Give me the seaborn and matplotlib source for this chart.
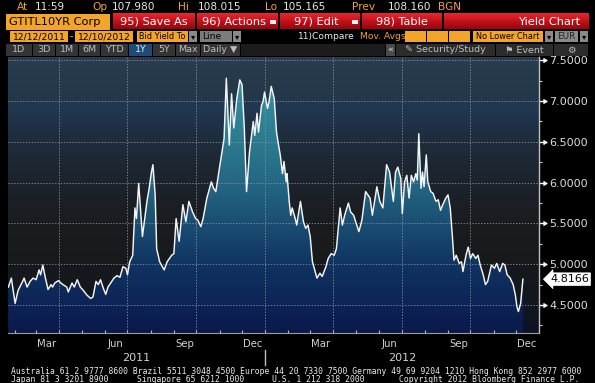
import numpy as np
import pandas as pd
import matplotlib
matplotlib.use("Agg")
import matplotlib.pyplot as plt
import matplotlib.dates as mdates
from matplotlib.colors import LinearSegmentedColormap
from matplotlib.patches import Rectangle
from matplotlib.ticker import MultipleLocator, FixedLocator, FixedFormatter
import seaborn as sns

# ---------------- data ----------------
day_offset = [  # days since 2011-01-01
    22, 26, 31, 35, 40, 43, 47, 51, 55, 59, 63, 65, 68, 71, 75, 79, 81, 84, 89, 92, 95, 100,
    102, 107, 110, 114, 118, 122, 127, 132, 135, 139, 142, 145, 149, 152, 155, 160, 163, 167,
    171, 175, 179, 181,
    184, 188, 191, 193, 196, 201, 207, 210, 213, 215, 218, 220, 224, 230, 234, 240, 243, 246,
    250, 255, 259, 263, 268, 272, 275, 279, 282, 287, 293, 296, 299, 304, 310, 313, 317, 320,
    323, 327, 331, 334, 337, 340, 344, 349, 351, 354, 356,
    360, 362, 364, 368, 370, 373, 377, 380, 382, 385, 388, 390, 393, 394, 397, 399, 401, 405,
    407, 409, 412, 416, 419, 422, 425, 428, 431, 434, 438, 441, 446, 449, 453, 457, 460, 465,
    468, 471, 476, 479, 483, 490, 494, 499, 505, 508, 514, 518, 522, 527,
    531, 536, 539, 542, 546, 548, 551, 554, 557, 560, 563, 566, 568, 570, 573, 575, 577, 580,
    582, 586, 589, 593, 596, 599, 602, 606, 609, 612, 615, 617, 620, 624, 627, 629, 633, 636,
    639, 642, 646, 649, 652, 656, 659, 662, 667, 671, 674, 678, 682, 685, 688, 692, 696, 699,
    701, 703, 706, 709,
]
yield_pct = [
    4.72, 4.83, 4.52, 4.68, 4.77, 4.83, 4.72, 4.79, 4.83, 4.81, 4.93, 4.87, 4.99, 4.85, 4.69,
    4.75, 4.72, 4.77, 4.80, 4.77, 4.75, 4.72, 4.66, 4.77, 4.72, 4.81, 4.72, 4.68, 4.62, 4.58,
    4.60, 4.79, 4.75, 4.81, 4.70, 4.63, 4.72, 4.79, 4.83, 4.86, 4.84, 4.97, 4.95, 4.87,
    5.03, 5.11, 5.69, 5.56, 5.99, 5.34, 5.77, 5.93, 6.13, 6.22, 5.85, 5.19, 5.03, 4.93, 5.03,
    5.11, 5.13, 5.56, 5.28, 5.73, 5.52, 5.77, 5.64, 5.56, 5.54, 5.46, 5.56, 5.81, 6.01, 5.93,
    5.89, 6.19, 6.54, 7.28, 6.46, 7.09, 6.67, 7.03, 7.26, 7.20, 6.67, 5.89, 6.38, 6.75, 6.58,
    6.85, 6.62,
    6.95, 6.99, 7.11, 6.91, 6.99, 7.18, 7.03, 6.62, 6.50, 6.34, 6.11, 6.26, 6.01, 6.11, 5.77,
    5.60, 5.69, 5.56, 5.48, 5.60, 5.77, 5.52, 5.44, 5.48, 5.34, 5.03, 4.93, 4.83, 4.89, 4.85,
    4.97, 5.07, 5.13, 5.11, 5.19, 5.69, 5.48, 5.60, 5.75, 5.64, 5.60, 5.40, 5.54, 5.89, 5.81,
    5.60, 5.95, 5.77, 5.69, 6.22,
    6.13, 5.77, 6.13, 6.19, 6.05, 5.62, 6.01, 6.09, 5.81, 6.09, 6.01, 6.11, 6.03, 6.60, 5.93,
    6.13, 5.95, 6.34, 6.01, 5.89, 5.87, 5.77, 5.79, 5.66, 5.73, 5.81, 5.85, 5.69, 5.32, 5.05,
    5.11, 5.01, 5.03, 4.91, 5.11, 5.21, 5.07, 5.13, 5.07, 5.11, 4.99, 4.87, 4.75, 4.79, 4.99,
    4.95, 5.01, 4.91, 5.01, 4.99, 4.87, 4.83, 4.75, 4.62, 4.48, 4.42, 4.52, 4.8166,
]
last_label = "4.8166"
y_ticks = [4.5, 5.0, 5.5, 6.0, 6.5, 7.0, 7.5]
x_tick_dates = ["2011-03-15", "2011-06-15", "2011-09-15", "2011-12-15",
                "2012-03-15", "2012-06-15", "2012-09-15", "2012-12-15"]
x_tick_labels = ["Mar", "Jun", "Sep", "Dec", "Mar", "Jun", "Sep", "Dec"]
year_labels = ["2011", "2012"]
quote_labels = ["At", "Op", "Hi", "Lo", "Prev"]
quote_values = ["11:59", "107.980", "108.015", "105.165", "108.160"]
footer_line1 = ("Australia 61 2 9777 8600 Brazil 5511 3048 4500 Europe 44 20 7330 7500 "
                "Germany 49 69 9204 1210 Hong Kong 852 2977 6000")
footer_line2 = ["Japan 81 3 3201 8900", "Singapore 65 6212 1000", "U.S. 1 212 318 2000",
                "Copyright 2012 Bloomberg Finance L.P."]

start = pd.Timestamp("2011-01-01")
df = pd.DataFrame({"date": start + pd.to_timedelta(day_offset, unit="D"),
                   "yield": yield_pct})

# ---------------- figure ----------------
W, H = 595, 383
fig = plt.figure(figsize=(W / 100, H / 100), dpi=100, facecolor="black")
ui = fig.add_axes([0, 0, 1, 1], zorder=1)
ui.set_axis_off()

PL, PR, PT, PB = 8, 539, 57, 333
ax = fig.add_axes([PL / W, 1 - PB / H, (PR - PL) / W, (PB - PT) / H], zorder=2)
ax.set_facecolor("black")

ymin, ymax = 4.157, 7.54
xmin = start + pd.Timedelta(days=21.5)
xmax = start + pd.Timedelta(days=730.5)

sns.lineplot(data=df, x="date", y="yield", ax=ax, color="#f4f4f4", lw=1.05, zorder=4)
ax.set_xlim(xmin, xmax)
ax.set_ylim(ymin, ymax)
x0n, x1n = mdates.date2num(xmin), mdates.date2num(xmax)


def vcmap(name, stops):
    return LinearSegmentedColormap.from_list(
        name, [((v - ymin) / (ymax - ymin), c) for v, c in stops])


bg_cmap = vcmap("bg", [(ymin, "#0d1326"), (4.5, "#11171f"), (5.0, "#17191b"),
                       (5.5, "#1a1c1f"), (6.0, "#1c232c"), (6.5, "#1e2c3b"),
                       (6.9, "#213650"), (7.1, "#24384a"), (ymax, "#2a3c4d")])
fill_cmap = vcmap("fill", [(ymin, "#0a194a"), (4.5, "#0c2356"), (5.0, "#103462"),
                           (5.5, "#1a4e73"), (6.0, "#246783"), (6.5, "#2b7a90"),
                           (7.0, "#33899c"), (ymax, "#3b95a6")])
grad = np.linspace(0, 1, 256).reshape(-1, 1)
ax.imshow(grad, extent=[x0n, x1n, ymin, ymax], origin="lower", aspect="auto",
          cmap=bg_cmap, zorder=0, interpolation="bilinear")
poly = ax.fill_between(df["date"], df["yield"], ymin, facecolor="none", lw=0)
fill_img = ax.imshow(grad, extent=[x0n, x1n, ymin, ymax], origin="lower", aspect="auto",
                     cmap=fill_cmap, zorder=1, interpolation="bilinear")
fill_img.set_clip_path(poly.get_paths()[0], transform=ax.transData)
ax.set_xlim(xmin, xmax)
ax.set_ylim(ymin, ymax)

grid_kw = dict(color="#8792a0", lw=0.7, ls=(0, (1.4, 1.6)), alpha=0.85)
for v in y_ticks:
    ax.axhline(v, zorder=3, **grid_kw)
for d in pd.date_range("2011-04-01", "2012-10-01", freq="QS"):
    ax.axvline(d, zorder=3, **grid_kw)

# axes / ticks
for s in ["left", "top"]:
    ax.spines[s].set_visible(False)
ax.spines["right"].set_color("#c0c0c0")
ax.spines["right"].set_linewidth(1.0)
ax.spines["bottom"].set_color("#9c9c9c")
ax.spines["bottom"].set_linewidth(0.8)

ax.yaxis.tick_right()
ax.yaxis.set_major_locator(FixedLocator(y_ticks))
ax.yaxis.set_major_formatter(FixedFormatter([f"{v:.4f}" for v in y_ticks]))
ax.yaxis.set_minor_locator(MultipleLocator(0.25))
ax.tick_params(axis="y", which="major", length=6, width=1, color="white",
               labelcolor="#dcdcdc", labelsize=8, pad=1.2)
ax.tick_params(axis="y", which="minor", length=2.5, width=0.8, color="#cfcfcf")
ax.set_ylabel("")
ax.set_xlabel("")

ax.xaxis.set_major_locator(FixedLocator(mdates.date2num(pd.to_datetime(x_tick_dates))))
ax.xaxis.set_major_formatter(FixedFormatter(x_tick_labels))
ax.xaxis.set_minor_locator(mdates.MonthLocator())
ax.tick_params(axis="x", which="major", length=0, labelsize=7.3, labelcolor="#d2d2d2", pad=4.5)
ax.tick_params(axis="x", which="minor", length=2.5, width=0.8, color="#bdbdbd", direction="in")

# little flag markers on right ticks
ax.plot([1.013] * len(y_ticks), y_ticks, ls="none", marker=5, ms=3.2, color="white",
        transform=ax.get_yaxis_transform(), clip_on=False, zorder=5)

# last value tag
ax.text(1.021, yield_pct[-1], last_label, transform=ax.get_yaxis_transform(),
        ha="left", va="center", fontsize=8, color="black", zorder=6,
        bbox=dict(boxstyle="larrow,pad=0.12", fc="white", ec="white", lw=0.5))

# year labels + separator
ytr = ax.get_xaxis_transform()
year_bounds = [xmin, pd.Timestamp("2012-01-01"), xmax]
for i, lab in enumerate(year_labels):
    mid = year_bounds[i] + (year_bounds[i + 1] - year_bounds[i]) / 2
    ax.text(mid, -(358 - PB) / (PB - PT), lab, transform=ytr, ha="center", va="center",
            fontsize=8, color="#d2d2d2")
ax.plot([year_bounds[1]] * 2, [-(350 - PB) / (PB - PT), -(365 - PB) / (PB - PT)],
        transform=ytr, clip_on=False, color="#bdbdbd", lw=1)

# ---------------- Bloomberg chrome ----------------
ORANGE = "#f3a52a"
FONT = "DejaVu Sans"


def box(x0, y0, x1, y1, color, z=1):
    ui.add_patch(Rectangle((x0, y0), x1 - x0, y1 - y0, fc=color, ec="none", zorder=z))


def txt(x, y, s, color, size, ha="left", family=FONT, z=3):
    ui.text(x, y, s, color=color, fontsize=size, ha=ha, va="center", family=family, zorder=z)


# row 1: quote line
pos = [(17, 35), (92, 112), (178, 198), (265, 283), (352, 388)]
for (lx, vx), lab, val in zip(pos, quote_labels, quote_values):
    txt(lx, 6.5, lab, "#f0a232", 7.6)
    txt(vx, 6.5, val, "#e6e6e6", 7.6)
txt(438, 6.5, "BGN", "#f0a232", 7.6)

# row 2: ticker and red buttons
box(6, 14, 110, 29.5, ORANGE)
txt(9, 22, "GTITL10YR Corp", "black", 8.2)
red_cmap = LinearSegmentedColormap.from_list("red", ["#e9262e", "#c3121b", "#96080f"])
rgrad = np.linspace(0, 1, 16).reshape(-1, 1)
buttons = [(113, 195, "95) Save As"), (197, 278, "96) Actions"), (280, 360, "97) Edit"),
           (362, 442, "98) Table"), (444, 589, "")]
for bx0, bx1, lab in buttons:
    ui.imshow(rgrad, extent=[bx0, bx1, 29.5, 14], cmap=red_cmap, aspect="auto",
              interpolation="bilinear", zorder=1)
    if lab:
        off = -4 if ("Actions" in lab or "Edit" in lab) else 0
        txt((bx0 + bx1) / 2 + off, 22, lab, "white", 8.2, ha="center")
txt(580, 22, "Yield Chart", "white", 8.2, ha="right")
for bx in (270, 352):
    box(bx, 20, bx + 6, 24, "#f0f0f0", z=3)

# row 3: date range etc.
box(10, 31, 68, 42, ORANGE)
txt(39, 36.5, "12/12/2011", "black", 6.6, ha="center")
txt(71.5, 36.5, "-", "#dddddd", 6.6, ha="center")
box(75, 31, 133, 42, ORANGE)
txt(104, 36.5, "12/10/2012", "black", 6.6, ha="center")
box(137, 31, 188, 42, ORANGE)
txt(162.5, 36.5, "Bid Yield To", "black", 5.9, ha="center")
box(189, 31, 197, 42, "#8a8a8a")
txt(193, 36.5, "▾", "black", 6.0, ha="center")
box(200, 31, 232, 42, "#7c7c7c")
txt(202, 36.5, "Line", "black", 6.6)
box(233, 31, 241, 42, "#8a8a8a")
txt(237, 36.5, "▾", "black", 6.0, ha="center")
txt(298, 36.5, "11)Compare", "#e6e6e6", 6.6)
txt(360, 36.5, "Mov. Avgs", "#f0a232", 6.6)
for bx0 in (405, 427, 449):
    box(bx0, 31, bx0 + 21, 42, ORANGE)
box(473, 31, 543, 42, ORANGE)
txt(508, 36.5, "No Lower Chart", "black", 5.9, ha="center")
box(545, 31, 553, 42, "#8a8a8a")
txt(549, 36.5, "▾", "black", 6.0, ha="center")
box(555, 31, 578, 42, "#8a8a8a")
txt(566.5, 36.5, "EUR", "#222222", 6.4, ha="center")
box(580, 31, 588, 42, "#8a8a8a")
txt(584, 36.5, "▾", "black", 6.0, ha="center")

# row 4: period buttons
period = [(6, 32, "1D"), (33, 55, "3D"), (56, 78, "1M"), (79, 100, "6M"), (101, 128, "YTD"),
          (129, 152, "1Y"), (153, 175, "5Y"), (176, 200, "Max"), (201, 240, "Daily ▼")]
for bx0, bx1, lab in period:
    sel = lab == "1Y"
    box(bx0, 44, bx1, 56, "#1e4c76" if sel else "#343434")
    txt((bx0 + bx1) / 2, 50, lab, "#dce8f4" if sel else "#bdbdbd", 6.8, ha="center")
box(241, 44, 385, 56, "#1c1c1c")
box(386, 44, 395, 56, "#4a4a4a")
txt(390.5, 50, "«", "#dddddd", 6.8, ha="center")
for bx0, bx1, lab in [(396, 495, "✎ Security/Study"), (496, 553, "⚑ Event"), (554, 588, "⚙")]:
    box(bx0, 44, bx1, 56, "#2c2c2c")
    txt((bx0 + bx1) / 2, 50, lab, "#bdbdbd", 6.8, ha="center")

# footer
txt(11, 371, footer_line1, "#ececec", 5.8, family="DejaVu Sans Mono")
for x, s in zip([11, 137, 272, 399], footer_line2):
    txt(x, 379.5, s, "#ececec", 5.8, family="DejaVu Sans Mono")

ui.set_xlim(0, W)
ui.set_ylim(H, 0)

fig.savefig("out.png", dpi=100, facecolor="black")
